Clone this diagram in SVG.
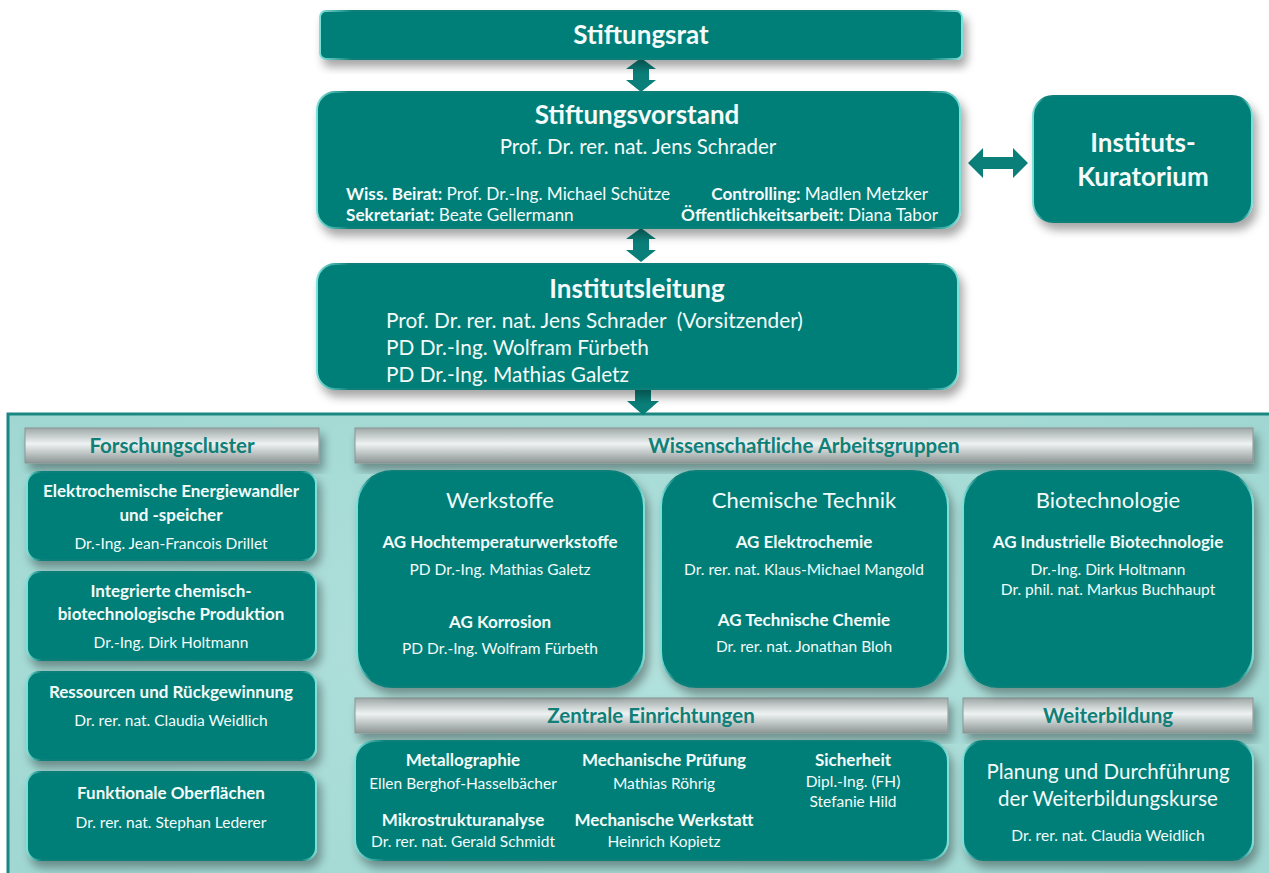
<svg xmlns="http://www.w3.org/2000/svg" width="1269" height="873" viewBox="0 0 1269 873">
<defs>
<filter id="sh" x="-10%" y="-10%" width="125%" height="140%">
<feDropShadow dx="4" dy="7" stdDeviation="5" flood-color="#000" flood-opacity="0.35"/>
</filter>
<linearGradient id="hdr" x1="0" y1="0" x2="0" y2="1">
<stop offset="0" stop-color="#9ea8a7"/>
<stop offset="0.45" stop-color="#eef2f2"/>
<stop offset="1" stop-color="#8c9695"/>
</linearGradient>
<linearGradient id="edge" x1="0" y1="0" x2="1" y2="0">
<stop offset="0" stop-color="#7fe0d8"/>
<stop offset="0.05" stop-color="#0b7f79"/>
<stop offset="0.95" stop-color="#0b7f79"/>
<stop offset="1" stop-color="#7fe0d8"/>
</linearGradient>
<radialGradient id="panel" cx="0.5" cy="0.5" r="0.7">
<stop offset="0" stop-color="#b3e2dd"/>
<stop offset="1" stop-color="#a0d7d2"/>
</radialGradient>
</defs>
<style>
.box{fill:#027f79;stroke:url(#edge);stroke-width:2;filter:url(#sh)}
.hbar{fill:url(#hdr);stroke:#8a9493;stroke-width:1;filter:url(#sh)}
.arr{fill:#0a7f79}
text{font-family:Lato,"Open Sans","Liberation Sans",sans-serif;fill:#f4fbfa}
.t1{font-size:26px;font-weight:bold;text-anchor:middle}
.t2{font-size:20.5px;text-anchor:middle}
.t2l{font-size:20.8px}
.sm{font-size:17.2px}
.hd{font-size:20.5px;font-weight:bold;fill:#0f7f78;text-anchor:middle}
.cb{font-size:17px;font-weight:bold;text-anchor:middle}
.cn{font-size:15.5px;text-anchor:middle}
.gt{font-size:22px;text-anchor:middle}
</style>

<g id="panel-bg">
<rect x="8" y="414" width="1270" height="470" fill="url(#panel)" stroke="#1b8781" stroke-width="3"/>
</g>

<g id="connectors">
<polygon class="arr" points="641,58 656,69 649,69 649,80 656,80 641,92 626,80 633,80 633,69 626,69"/>
<polygon class="arr" points="641,228 656,239 649,239 649,250 656,250 641,262 626,250 633,250 633,239 626,239"/>
<polygon class="arr" points="968,163 983,148 983,157 1013,157 1013,148 1028,163 1013,178 1013,169 983,169 983,178"/>
<polygon class="arr" points="635,389 651,389 651,401 659,401 643,415 627,401 635,401"/>
</g>

<g id="stiftungsrat">
<rect class="box" x="320" y="11" width="642" height="48" rx="6"/>
<text class="t1" x="641" y="44">Stiftungsrat</text>
</g>

<g id="stiftungsvorstand">
<rect class="box" x="317" y="92" width="643" height="136" rx="18"/>
<text class="t1" x="637" y="124">Stiftungsvorstand</text>
<text class="t2" x="638" y="154">Prof. Dr. rer. nat. Jens Schrader</text>
<text class="sm" x="346" y="200"><tspan font-weight="bold">Wiss. Beirat:</tspan> Prof. Dr.-Ing. Michael Schütze</text>
<text class="sm" x="346" y="221"><tspan font-weight="bold">Sekretariat:</tspan> Beate Gellermann</text>
<text class="sm" x="928" y="200" text-anchor="end"><tspan font-weight="bold">Controlling:</tspan> Madlen Metzker</text>
<text class="sm" x="938" y="221" text-anchor="end"><tspan font-weight="bold">Öffentlichkeitsarbeit:</tspan> Diana Tabor</text>
</g>

<g id="kuratorium">
<rect class="box" x="1033" y="96" width="219" height="126" rx="20"/>
<text class="t1" x="1143" y="152" font-size="28">Instituts-</text>
<text class="t1" x="1143" y="186" font-size="28">Kuratorium</text>
</g>

<g id="institutsleitung">
<rect class="box" x="317" y="264" width="641" height="125" rx="18"/>
<text class="t1" x="637" y="298">Institutsleitung</text>
<text class="t2l" x="386" y="328" xml:space="preserve">Prof. Dr. rer. nat. Jens Schrader  (Vorsitzender)</text>
<text class="t2l" x="386" y="355">PD Dr.-Ing. Wolfram Fürbeth</text>
<text class="t2l" x="386" y="382">PD Dr.-Ing. Mathias Galetz</text>
</g>

<g id="hdr-forschungscluster">
<rect class="hbar" x="25" y="428" width="294" height="35"/>
<text class="hd" x="172" y="453">Forschungscluster</text>
</g>
<g id="hdr-arbeitsgruppen">
<rect class="hbar" x="355" y="428" width="898" height="35"/>
<text class="hd" x="804" y="453">Wissenschaftliche Arbeitsgruppen</text>
</g>
<g id="hdr-zentrale">
<rect class="hbar" x="355" y="698" width="593" height="35"/>
<text class="hd" x="651" y="723">Zentrale Einrichtungen</text>
</g>
<g id="hdr-weiterbildung">
<rect class="hbar" x="963" y="698" width="290" height="35"/>
<text class="hd" x="1108" y="723">Weiterbildung</text>
</g>

<g id="cluster1">
<rect class="box" x="27" y="472" width="289" height="88" rx="12"/>
<text class="cb" x="171" y="497">Elektrochemische Energiewandler</text>
<text class="cb" x="171" y="521">und -speicher</text>
<text class="cn" x="171" y="549">Dr.-Ing. Jean-Francois Drillet</text>
</g>
<g id="cluster2">
<rect class="box" x="27" y="572" width="289" height="88" rx="12"/>
<text class="cb" x="171" y="597">Integrierte chemisch-</text>
<text class="cb" x="171" y="620">biotechnologische Produktion</text>
<text class="cn" x="171" y="648">Dr.-Ing. Dirk Holtmann</text>
</g>
<g id="cluster3">
<rect class="box" x="27" y="672" width="289" height="88" rx="12"/>
<text class="cb" x="171" y="698">Ressourcen und Rückgewinnung</text>
<text class="cn" x="171" y="726">Dr. rer. nat. Claudia Weidlich</text>
</g>
<g id="cluster4">
<rect class="box" x="27" y="772" width="289" height="88" rx="12"/>
<text class="cb" x="171" y="799">Funktionale Oberflächen</text>
<text class="cn" x="171" y="828">Dr. rer. nat. Stephan Lederer</text>
</g>

<g id="werkstoffe">
<rect class="box" x="357" y="471" width="287" height="216" rx="35"/>
<text class="gt" x="500" y="508">Werkstoffe</text>
<text class="cb" x="500" y="548">AG Hochtemperaturwerkstoffe</text>
<text class="cn" x="500" y="575">PD Dr.-Ing. Mathias Galetz</text>
<text class="cb" x="500" y="628">AG Korrosion</text>
<text class="cn" x="500" y="654">PD Dr.-Ing. Wolfram Fürbeth</text>
</g>
<g id="chemische-technik">
<rect class="box" x="661" y="471" width="287" height="216" rx="35"/>
<text class="gt" x="804" y="508">Chemische Technik</text>
<text class="cb" x="804" y="548">AG Elektrochemie</text>
<text class="cn" x="804" y="575">Dr. rer. nat. Klaus-Michael Mangold</text>
<text class="cb" x="804" y="626">AG Technische Chemie</text>
<text class="cn" x="804" y="652">Dr. rer. nat. Jonathan Bloh</text>
</g>
<g id="biotechnologie">
<rect class="box" x="963" y="471" width="290" height="216" rx="35"/>
<text class="gt" x="1108" y="508">Biotechnologie</text>
<text class="cb" x="1108" y="548">AG Industrielle Biotechnologie</text>
<text class="cn" x="1108" y="575">Dr.-Ing. Dirk Holtmann</text>
<text class="cn" x="1108" y="595">Dr. phil. nat. Markus Buchhaupt</text>
</g>

<g id="zentrale">
<rect class="box" x="355" y="741" width="593" height="119" rx="20"/>
<text class="cb" x="463" y="766">Metallographie</text>
<text class="cn" x="463" y="789">Ellen Berghof-Hasselbächer</text>
<text class="cb" x="463" y="826">Mikrostrukturanalyse</text>
<text class="cn" x="463" y="847">Dr. rer. nat. Gerald Schmidt</text>
<text class="cb" x="664" y="766">Mechanische Prüfung</text>
<text class="cn" x="664" y="789">Mathias Röhrig</text>
<text class="cb" x="664" y="826">Mechanische Werkstatt</text>
<text class="cn" x="664" y="847">Heinrich Kopietz</text>
<text class="cb" x="853" y="766">Sicherheit</text>
<text class="cn" x="853" y="787">Dipl.-Ing. (FH)</text>
<text class="cn" x="853" y="807">Stefanie Hild</text>
</g>

<g id="weiterbildung">
<rect class="box" x="963" y="741" width="290" height="119" rx="20"/>
<text class="t2" x="1108" y="779">Planung und Durchführung</text>
<text class="t2" x="1108" y="806">der Weiterbildungskurse</text>
<text class="cn" x="1108" y="841">Dr. rer. nat. Claudia Weidlich</text>
</g>
</svg>
